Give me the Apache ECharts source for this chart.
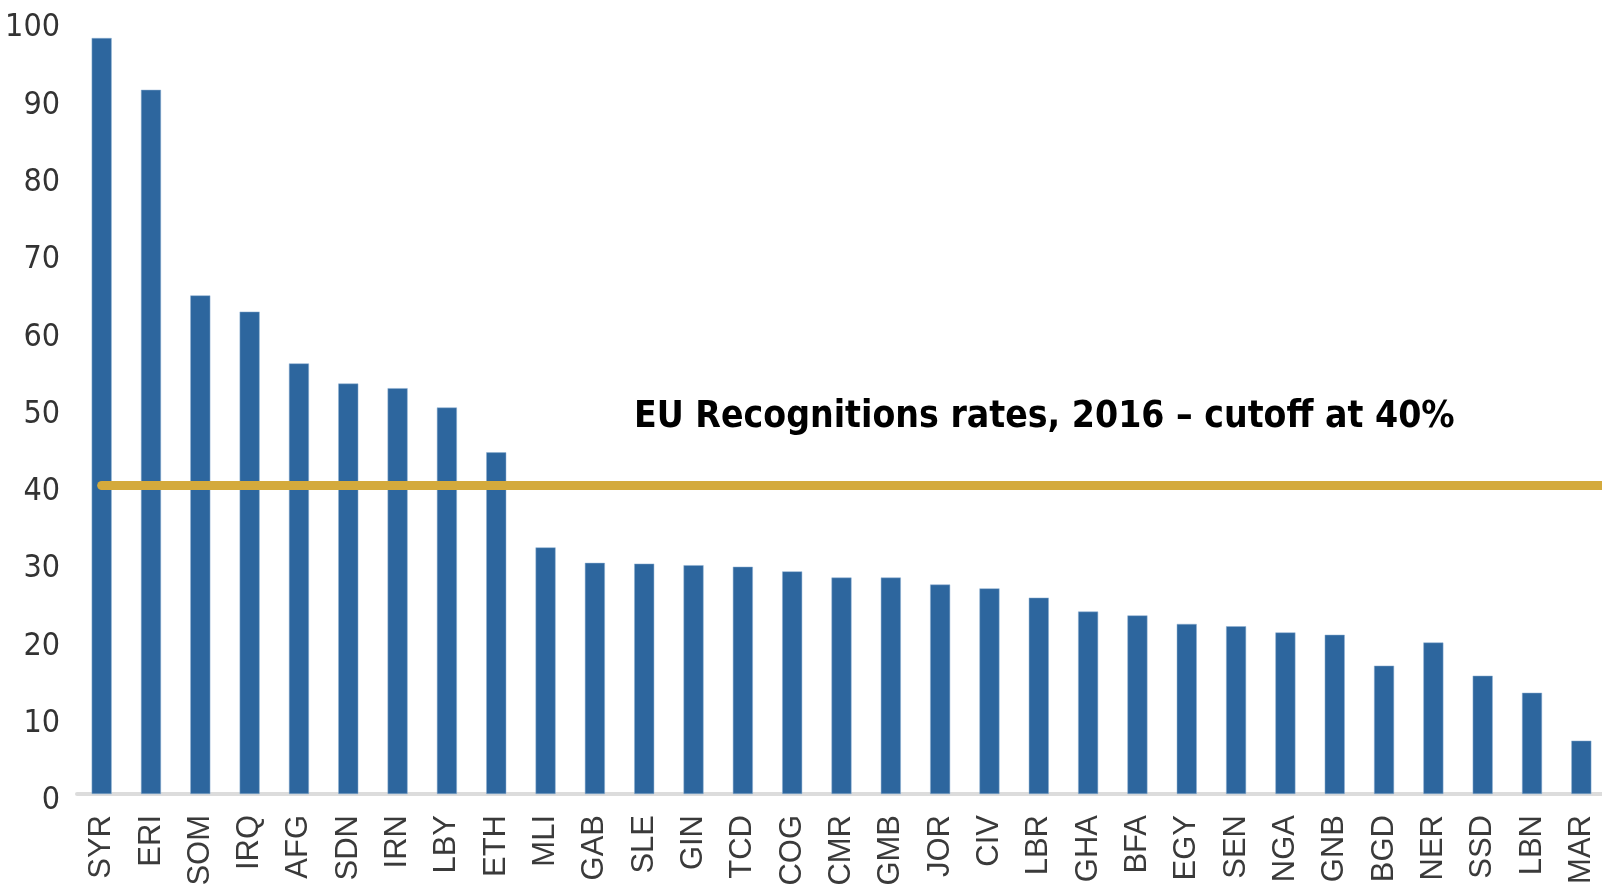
<!DOCTYPE html>
<html>
<head>
<meta charset="utf-8">
<script src="https://cdn.jsdelivr.net/npm/echarts@6/dist/echarts.min.js"></script>
<style>
html, body { margin: 0; padding: 0; background: #fff; }
#chart { width: 1602px; height: 891px; }
</style>
</head>
<body>
<div id="chart"></div>
<script>
// recognition rates per country, 2016 (%)
var countries = ['SYR', 'ERI', 'SOM', 'IRQ', 'AFG', 'SDN', 'IRN', 'LBY', 'ETH', 'MLI',
    'GAB', 'SLE', 'GIN', 'TCD', 'COG', 'CMR', 'GMB', 'JOR', 'CIV', 'LBR',
    'GHA', 'BFA', 'EGY', 'SEN', 'NGA', 'GNB', 'BGD', 'NER', 'SSD', 'LBN', 'MAR'];
var rates = [97.8, 91.1, 64.5, 62.4, 55.7, 53.1, 52.5, 50.0, 44.2, 31.9,
    29.9, 29.8, 29.6, 29.4, 28.8, 28.0, 28.0, 27.1, 26.6, 25.4,
    23.6, 23.1, 22.0, 21.7, 20.9, 20.6, 16.6, 19.6, 15.3, 13.1, 6.9];
var cutoff = 40;
var yTicks = { min: 0, max: 100, interval: 10 };
var titleText = 'EU Recognitions rates, 2016 \u2013 cutoff at 40%';

var chart = echarts.init(document.getElementById('chart'));
chart.setOption({
    animation: false,
    title: {
        text: titleText,
        left: 634,
        top: 399,
        padding: 0,
        textStyle: {
            fontFamily: "'DejaVu Sans Condensed', 'Liberation Sans Narrow', sans-serif",
            fontWeight: 'bold',
            fontSize: 37,
            color: '#000'
        }
    },
    grid: {
        left: 77,
        width: 1529,
        top: 21,
        bottom: 97,
        containLabel: false,
        outerBoundsMode: 'none'
    },
    xAxis: {
        type: 'category',
        data: countries,
        axisLine: { lineStyle: { color: '#dcdcdc', width: 4 } },
        axisTick: { show: false },
        axisLabel: {
            rotate: 90,
            margin: 21,
            interval: 0,
            fontFamily: "'Liberation Sans', sans-serif",
            fontSize: 31,
            color: '#3a3a3a'
        }
    },
    yAxis: {
        type: 'value',
        min: yTicks.min,
        max: yTicks.max,
        interval: yTicks.interval,
        axisLine: { show: false },
        axisTick: { show: false },
        splitLine: { show: false },
        axisLabel: {
            margin: 17,
            verticalAlign: 'top',
            lineHeight: 14,
            fontFamily: "'DejaVu Sans Condensed', 'Liberation Sans Narrow', sans-serif",
            fontSize: 32,
            color: '#333'
        }
    },
    series: [{
        type: 'bar',
        data: rates,
        barWidth: 20,
        itemStyle: {
            color: '#2d669e',
            borderColor: '#8fb0d3',
            borderWidth: 0.5
        },
        markLine: {
            silent: true,
            symbol: 'none',
            label: { show: false },
            lineStyle: {
                type: 'solid',
                color: '#d4aa3c',
                width: 9,
                cap: 'round'
            },
            data: [[
                { xAxis: countries[0], yAxis: cutoff },
                { x: '100%', yAxis: cutoff }
            ]]
        }
    }]
});
</script>
</body>
</html>
